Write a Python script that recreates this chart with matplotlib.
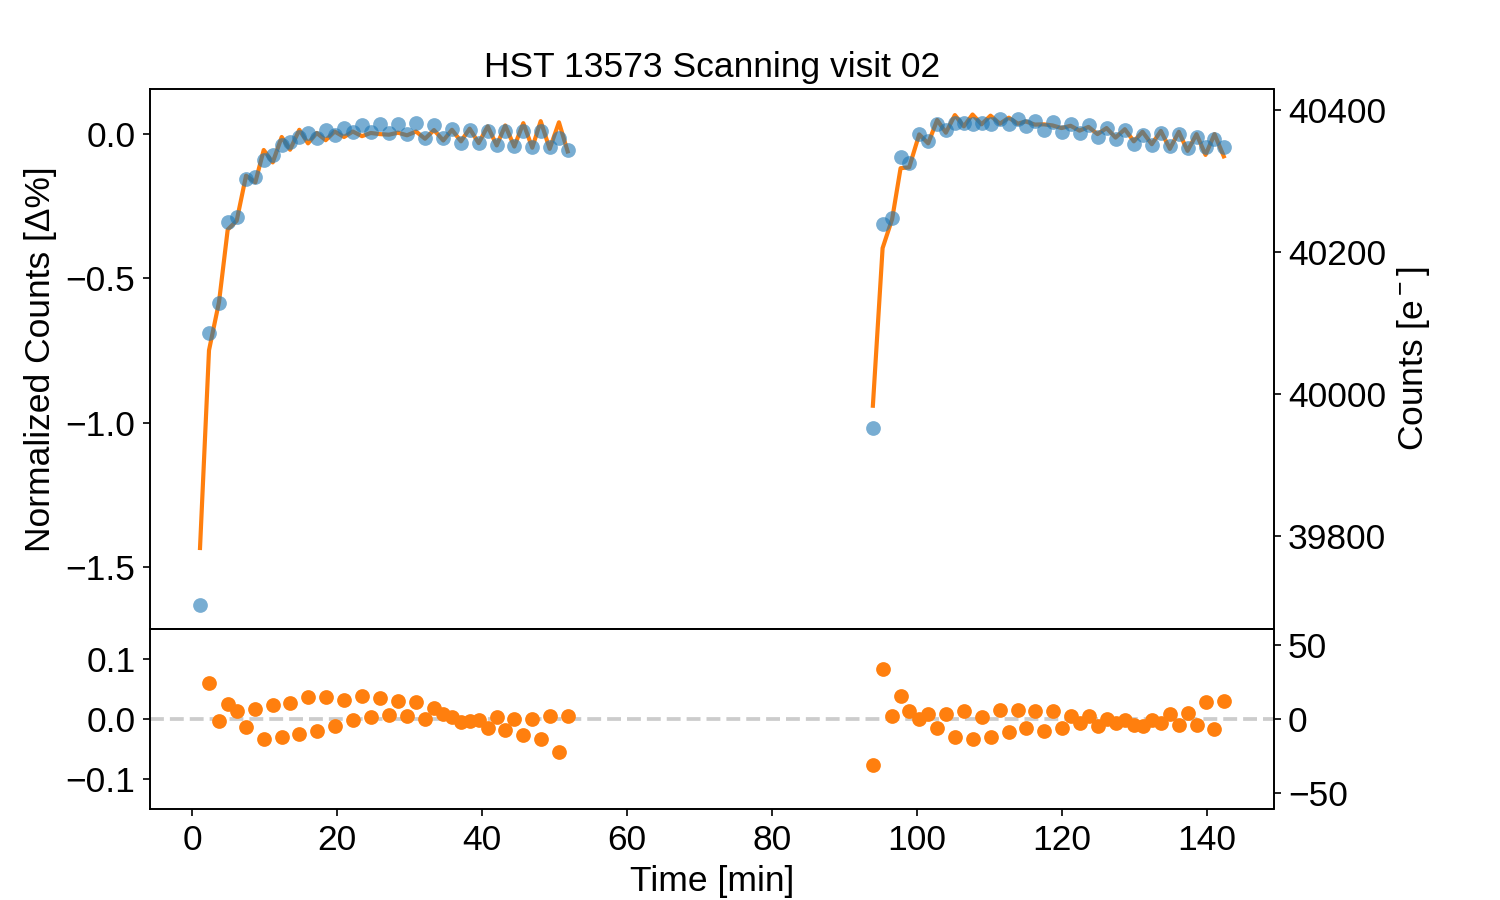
import numpy as np
import matplotlib
matplotlib.use("Agg")
import matplotlib.pyplot as plt

plt.rcParams['font.family'] = ['Liberation Sans', 'DejaVu Sans']
plt.rcParams['mathtext.fontset'] = 'custom'
plt.rcParams['mathtext.rm'] = 'Liberation Sans'
plt.rcParams['mathtext.it'] = 'Liberation Sans'
plt.rcParams['font.size'] = 17

# orbit 1
t1 = [1.10, 2.34, 3.72, 4.92, 6.16, 7.45, 8.73, 9.89, 11.13, 12.37, 13.52,
      14.80, 16.00, 17.20, 18.44, 19.68, 20.97, 22.17, 23.45, 24.65, 25.93,
      27.17, 28.41, 29.66, 30.90, 32.14, 33.38, 34.66, 35.86, 37.10, 38.30,
      39.54, 40.79, 42.03, 43.21, 44.46, 45.70, 46.94, 48.10, 49.34, 50.62, 51.82]
flux1 = [-1.631, -0.689, -0.585, -0.305, -0.286, -0.157, -0.150, -0.088, -0.074,
         -0.039, -0.027, -0.009, 0.005, -0.015, 0.016, -0.003, 0.022, 0.008,
         0.031, 0.008, 0.035, 0.005, 0.035, 0.002, 0.037, -0.015, 0.033, -0.013,
         0.019, -0.030, 0.016, -0.032, 0.012, -0.036, 0.012, -0.042, 0.012,
         -0.046, 0.012, -0.046, -0.014, -0.055]
model1 = [-1.434, -0.749, -0.582, -0.331, -0.300, -0.144, -0.167, -0.055, -0.098,
          -0.010, -0.054, 0.015, -0.032, 0.004, -0.021, 0.009, -0.010, 0.009,
          -0.007, 0.004, 0.000, -0.002, 0.005, -0.004, 0.009, -0.016, 0.014,
          -0.022, 0.015, -0.025, 0.019, -0.031, 0.027, -0.039, 0.030, -0.043,
          0.038, -0.047, 0.045, -0.051, 0.041, -0.060]
resid1 = [-0.197, 0.060, -0.003, 0.026, 0.014, -0.013, 0.017, -0.033, 0.024,
          -0.029, 0.027, -0.024, 0.037, -0.019, 0.037, -0.012, 0.032, -0.001,
          0.038, 0.004, 0.035, 0.007, 0.030, 0.006, 0.028, 0.001, 0.019, 0.009,
          0.004, -0.005, -0.003, -0.001, -0.015, 0.003, -0.018, 0.001, -0.026,
          0.001, -0.033, 0.005, -0.055, 0.005]

# orbit 2
t2 = [93.93, 95.27, 96.59, 97.75, 98.94, 100.32, 101.56, 102.80, 104.00,
      105.24, 106.48, 107.68, 108.92, 110.16, 111.45, 112.69, 113.93, 115.03,
      116.28, 117.52, 118.72, 119.96, 121.20, 122.44, 123.68, 124.92, 126.17,
      127.41, 128.69, 129.93, 131.13, 132.41, 133.66, 134.90, 136.14, 137.34,
      138.58, 139.82, 141.06, 142.34]
flux2 = [-1.018, -0.312, -0.289, -0.079, -0.101, -0.001, -0.023, 0.034, 0.014,
         0.037, 0.040, 0.035, 0.037, 0.035, 0.051, 0.035, 0.051, 0.029, 0.046,
         0.014, 0.043, 0.006, 0.035, 0.005, 0.031, -0.011, 0.022, -0.018, 0.016,
         -0.035, -0.003, -0.036, 0.005, -0.042, -0.001, -0.047, -0.009, -0.044,
         -0.016, -0.046]
model2 = [-0.941, -0.395, -0.294, -0.118, -0.115, -0.001, -0.032, 0.049, 0.005,
          0.066, 0.027, 0.068, 0.034, 0.064, 0.036, 0.057, 0.036, 0.044, 0.033,
          0.034, 0.030, 0.021, 0.029, 0.012, 0.025, 0.000, 0.021, -0.012, 0.017,
          -0.025, 0.008, -0.035, 0.011, -0.051, 0.008, -0.058, 0.000, -0.072,
          0.000, -0.077]
resid2 = [-0.077, 0.083, 0.005, 0.039, 0.014, 0.000, 0.009, -0.015, 0.009,
          -0.029, 0.013, -0.033, 0.003, -0.029, 0.015, -0.022, 0.015, -0.015,
          0.013, -0.020, 0.013, -0.015, 0.006, -0.007, 0.006, -0.011, 0.001,
          -0.006, -0.001, -0.010, -0.011, -0.001, -0.006, 0.009, -0.009, 0.011,
          -0.009, 0.028, -0.016, 0.031]

ref_counts = 40369.0

fig = plt.figure(figsize=(10, 6), dpi=150)
gs = fig.add_gridspec(2, 1, height_ratios=[3, 1], hspace=0,
                      left=0.1, right=0.849, top=0.901, bottom=0.101)
ax1 = fig.add_subplot(gs[0])
ax2 = fig.add_subplot(gs[1], sharex=ax1)

for t, f, m in [(t1, flux1, model1), (t2, flux2, model2)]:
    ax1.plot(t, m, color='C1', lw=2, zorder=2)
    ax1.scatter(t, f, s=50, color='C0', alpha=0.6, lw=0, zorder=3)

ax1.set_ylim(-1.715, 0.156)
ax1.set_yticks([0.0, -0.5, -1.0, -1.5])
ax1.set_ylabel('Normalized Counts [Δ%]')
ax1.set_title('HST 13573 Scanning visit 02', fontsize=17)
ax1.tick_params(axis='x', bottom=False, labelbottom=False)

ax1r = ax1.twinx()
ax1r.set_ylim(39668.5, 40429.6)
ax1r.set_yticks([39800, 40000, 40200, 40400])
ax1r.set_ylabel('Counts [e$^-$]')

ax2.axhline(0, color='#cccccc', ls='--', lw=1.8, zorder=1)
for t, r in [(t1, resid1), (t2, resid2)]:
    ax2.scatter(t, r, s=50, color='C1', lw=0, zorder=3)
ax2.set_ylim(-0.15, 0.15)
ax2.set_yticks([0.1, 0.0, -0.1])
ax2.set_xlabel('Time [min]')
ax2.set_xlim(-5.8, 149.2)

ax2r = ax2.twinx()
ax2r.set_ylim(-0.15 * ref_counts / 100, 0.15 * ref_counts / 100)
ax2r.set_yticks([-50, 0, 50])

fig.savefig('out.png', dpi=150)
